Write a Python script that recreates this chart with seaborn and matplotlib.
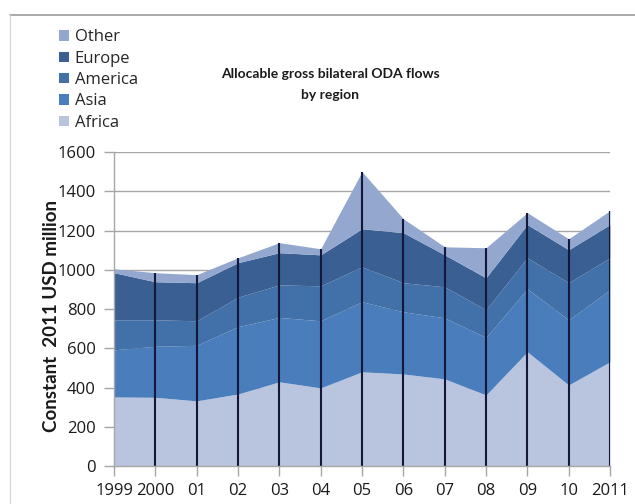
import matplotlib
matplotlib.use("Agg")
import matplotlib.pyplot as plt
from matplotlib.lines import Line2D
from matplotlib.patches import Patch
import numpy as np
import seaborn as sns

years = [1999, 2000, 2001, 2002, 2003, 2004, 2005, 2006, 2007, 2008, 2009, 2010, 2011]
year_labels = ["1999", "2000", "01", "02", "03", "04", "05", "06", "07", "08", "09", "10", "2011"]
africa = [352, 350, 332, 367, 429, 398, 480, 469, 444, 362, 582, 413, 531]
asia = [240, 260, 283, 343, 328, 342, 357, 317, 311, 293, 321, 332, 367]
america = [153, 135, 125, 150, 166, 178, 178, 148, 158, 141, 158, 189, 163]
europe = [240, 194, 194, 176, 164, 158, 194, 255, 163, 163, 169, 168, 169]
other = [20, 46, 41, 25, 51, 31, 291, 71, 41, 153, 61, 56, 71]
regions = ["Africa", "Asia", "America", "Europe", "Other"]
colors = ["#b9c5de", "#4a7dbb", "#4270a8", "#3a5f92", "#93a7cf"]

sns.set_theme(style="white")
plt.rcParams["font.family"] = ["Open Sans", "DejaVu Sans"]

fig = plt.figure(figsize=(6.35, 5.04), dpi=100)
ax = fig.add_axes([0.1795, 0.0754, 0.7811, 0.6230])

series = [africa, asia, america, europe, other]
ax.stackplot(years, *series, colors=colors, linewidth=0, zorder=2)

totals = np.sum(np.array(series), axis=0)
ax.vlines(years[1:], 0, totals[1:], colors="#14163a", linewidth=1.5, zorder=3)

ax.set_xlim(years[0], years[-1])
ax.set_ylim(0, 1600)
ax.set_yticks(range(0, 1601, 200))
ax.set_xticks(years)
ax.set_xticklabels(year_labels)
ax.yaxis.grid(True, color="#a6a6a6", linewidth=1.0, zorder=0)
ax.xaxis.grid(False)
ax.set_axisbelow(True)

for side in ("top", "right"):
    ax.spines[side].set_visible(False)
for side in ("left", "bottom"):
    ax.spines[side].set_color("#a6a6a6")
    ax.spines[side].set_linewidth(1.0)
ax.spines["bottom"].set_zorder(4)

ax.tick_params(axis="both", which="major", labelsize=12, colors="#a6a6a6",
               labelcolor="#1a1a1a", length=7, width=1.0, direction="out",
               left=True, bottom=True)
ax.tick_params(axis="y", pad=6)
ax.tick_params(axis="x", pad=5)

ax.set_ylabel("Constant  2011 USD million", fontsize=13.5, fontweight="bold",
              color="#1a1a1a", family=["Lato", "DejaVu Sans"])
ax.yaxis.set_label_coords(-0.109, 0.478)

fig.text(0.52, 0.832, "Allocable gross bilateral ODA flows\nby region",
         ha="center", va="center", fontsize=10, fontweight="bold",
         color="#1a1a1a", linespacing=1.85, family=["Lato", "DejaVu Sans"])

handles = [Patch(facecolor=c, edgecolor="none") for c in colors]
leg = fig.legend(handles[::-1], regions[::-1], loc="upper left",
                 bbox_to_anchor=(0.082, 0.955), frameon=False, fontsize=12,
                 handlelength=0.6, handleheight=0.6, handletextpad=0.35,
                 labelspacing=0.32, borderaxespad=0)

# outer chart frame lines
fig.add_artist(Line2D([0.016, 1.0], [0.970, 0.970], color="#9a9a9a",
                      linewidth=1.2, transform=fig.transFigure))
fig.add_artist(Line2D([0.016, 0.016], [0.0, 0.970], color="#d8d8d8",
                      linewidth=1.0, transform=fig.transFigure))

fig.savefig("out.png", dpi=100, facecolor="white")
